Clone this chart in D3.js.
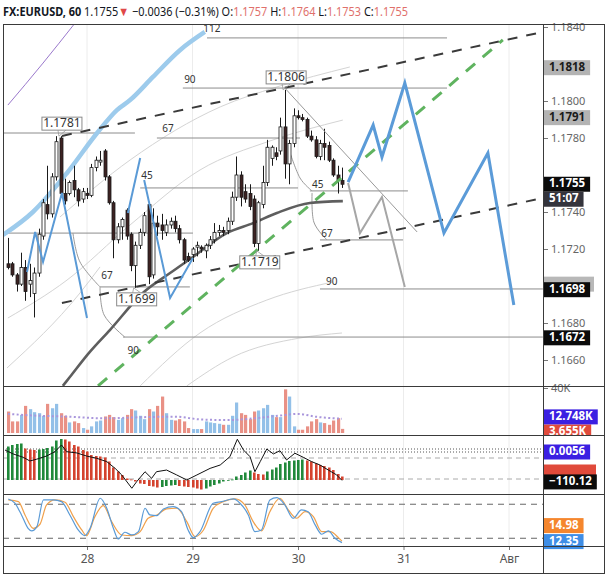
<!DOCTYPE html>
<html>
<head>
<meta charset="utf-8">
<script src="https://cdn.jsdelivr.net/npm/d3@7"></script>
<style>
  body { margin: 0; background: #fff; }
  text { font-family: "Noto Sans", sans-serif; }
</style>
</head>
<body>
<svg id="chart" width="607" height="576"></svg>
<script>
// ---------- data ----------
const firstHour = 6;          // 27 Jul 06:00, hours counted from 27 Jul 00:00
// [open, high, low, close] hourly candles
const candles = [
  [1.1712,1.1726,1.1709,1.1710],[1.1712,1.1713,1.1705,1.1706],[1.1706,1.1707,1.1697,1.1701],
  [1.1701,1.1718,1.1700,1.1710],[1.1710,1.1714,1.1692,1.1697],[1.1701,1.1712,1.1694,1.1703],
  [1.1696,1.1710,1.1683,1.1707],[1.1707,1.1731,1.1705,1.1728],[1.1727,1.1747,1.1725,1.1745],
  [1.1744,1.1765,1.1736,1.1739],[1.1739,1.1761,1.1737,1.1759],[1.1759,1.1781,1.1757,1.1778],
  [1.1780,1.1781,1.1748,1.1750],[1.1750,1.1758,1.1744,1.1746],[1.1750,1.1757,1.1749,1.1756],
  [1.1757,1.1765,1.1748,1.1752],[1.1752,1.1753,1.1743,1.1746],[1.1747,1.1753,1.1745,1.1751],
  [1.1750,1.1753,1.1747,1.1749],[1.1749,1.1766,1.1748,1.1764],[1.1764,1.1770,1.1762,1.1768],
  [1.1767,1.1773,1.1765,1.1768],[1.1773,1.1774,1.1757,1.1759],[1.1759,1.1760,1.1744,1.1745],
  [1.1745,1.1746,1.1715,1.1725],[1.1725,1.1734,1.1723,1.1732],[1.1732,1.1737,1.1725,1.1736],
  [1.1741,1.1742,1.1725,1.1727],[1.1728,1.1729,1.1708,1.1711],[1.1711,1.1724,1.1699,1.1722],
  [1.1722,1.1731,1.1720,1.1729],[1.1729,1.1740,1.1727,1.1738],[1.1744,1.1745,1.1701,1.1705],
  [1.1706,1.1742,1.1704,1.1734],[1.1734,1.1738,1.1727,1.1732],[1.1733,1.1739,1.1725,1.1730],
  [1.1729,1.1736,1.1727,1.1733],[1.1733,1.1737,1.1731,1.1735],[1.1735,1.1738,1.1729,1.1731],
  [1.1731,1.1733,1.1723,1.1725],[1.1725,1.1726,1.1712,1.1714],[1.1716,1.1718,1.1713,1.1714],
  [1.1717,1.1721,1.1713,1.1720],[1.1721,1.1724,1.1716,1.1722],[1.1721,1.1722,1.1718,1.1720],
  [1.1719,1.1723,1.1715,1.1722],[1.1722,1.1727,1.1720,1.1725],[1.1725,1.1734,1.1723,1.1729],
  [1.1729,1.1733,1.1727,1.1730],[1.1730,1.1732,1.1727,1.1729],[1.1730,1.1737,1.1728,1.1735],
  [1.1735,1.1751,1.1733,1.1748],[1.1748,1.1770,1.1746,1.1760],[1.1760,1.1762,1.1743,1.1748],
  [1.1751,1.1755,1.1745,1.1747],[1.1750,1.1755,1.1741,1.1743],[1.1747,1.1749,1.1721,1.1723],
  [1.1723,1.1746,1.1719,1.1745],[1.1744,1.1765,1.1742,1.1756],[1.1756,1.1779,1.1754,1.1775],
  [1.1769,1.1776,1.1765,1.1775],[1.1772,1.1775,1.1768,1.1770],[1.1773,1.1791,1.1771,1.1786],
  [1.1786,1.1806,1.1758,1.1766],[1.1766,1.1779,1.1755,1.1777],[1.1777,1.1796,1.1775,1.1792],
  [1.1792,1.1795,1.1790,1.1791],[1.1791,1.1793,1.1789,1.1790],[1.1790,1.1791,1.1780,1.1781],
  [1.1781,1.1784,1.1778,1.1779],[1.1779,1.1781,1.1769,1.1770],[1.1770,1.1779,1.1768,1.1777],
  [1.1777,1.1785,1.1768,1.1775],[1.1776,1.1778,1.1767,1.1768],[1.1768,1.1769,1.1759,1.1760],
  [1.1760,1.1765,1.1750,1.1757],[1.1757,1.1764,1.1753,1.1755]
];
// volume, thousands
const volumes = [19.1,10.3,10.3,16.1,24.1,21.2,18.5,17.6,15.3,25.9,22.0,25.9,17.6,15.3,9.4,10.3,
  8.8,4.4,2.9,5.9,10.3,11.1,14.7,16.1,14.1,11.7,13.2,16.1,21.2,20.0,15.3,12.3,21.2,19.1,24.1,32.4,
  17.6,11.7,11.1,12.3,10.3,4.4,3.5,3.5,3.5,10.3,9.4,8.8,8.2,7.3,7.3,15.3,27.1,17.6,16.1,12.3,19.1,
  20.0,22.0,25.0,16.1,14.1,14.1,38.8,32.4,5.9,2.9,2.9,5.9,10.3,12.3,9.4,8.8,7.3,11.1,13.2,3.655];
const volumeMA = [[6,17],[12,15.5],[20,14.5],[28,13],[36,14],[44,14.5],[50,12],[56,11.5],
  [62,13],[68,15.5],[72,17],[76,14.5],[82,12.748]];
// MACD histogram
const macdHist = [0.0067,0.0070,0.0072,0.0073,0.0063,0.0061,0.0060,0.0061,0.0062,0.0064,
  0.0067,0.0079,0.0082,0.0081,0.0077,0.0070,0.0067,0.0060,0.0057,0.0050,
  0.0048,0.0047,0.0045,0.0037,0.0025,0.0017,0.0010,0.0003,0.0001,-0.0003,
  -0.0007,-0.0008,-0.0012,-0.0013,-0.0015,-0.0014,-0.0012,-0.0011,-0.0010,-0.0012,
  -0.0013,-0.0014,-0.0015,-0.0017,-0.0019,-0.0017,-0.0013,-0.0010,-0.0007,-0.0003,
  -0.0001,0.0001,0.0007,0.0010,0.0015,0.0019,0.0015,0.0012,0.0011,0.0017,
  0.0021,0.0025,0.0032,0.0035,0.0038,0.0039,0.0040,0.0041,0.0039,0.0037,
  0.0033,0.0030,0.0028,0.0025,0.0020,0.0012,0.0007];
const macdDotted = [0.0062, 0.0056];
const macdSignal = 0.0016;
// CCI line [hour, value]
const cci = [[5.35,107],[7.2,79],[9.5,55],[11,29],[12.5,41],[14.8,64],[16.7,95],[18.2,143],
  [19.4,95],[21.7,86],[23.9,64],[26.2,48],[28.5,24],[30.4,-24],[31.9,-71],[34.2,-166],[35.3,-119],
  [37.2,-48],[38.7,-95],[39.8,-48],[42.1,-36],[44.4,-71],[46.7,-107],[49,-71],[52,-24],[54.3,0],
  [56.5,59],[58.2,184],[59.6,107],[61.1,59],[62.2,-48],[63.4,24],[64.9,114],[66.4,79],[67.9,102],
  [69.4,36],[71.3,84],[73.2,55],[75.1,24],[77,0],[78.9,-36],[80.8,-71],[82,-110.12]];
const cciDashed = [50, -100];
// Stochastic %K and %D [hour, value]
const stochK = [[6.1,89.3],[7.6,81.8],[9.1,61.1],[10.6,37.6],[11.4,32.9],[12.6,40.5],[14.1,87.6],
  [16.3,87.6],[18.2,84.6],[20.1,61.1],[22,34.6],[23.5,24.6],[24.7,37.6],[27,90.6],[28.5,72.9],
  [30,37.6],[31.1,18.8],[32.6,30.6],[34.2,25.8],[35.7,31.6],[37.2,72.9],[38.3,61.1],[39.9,59.9],
  [41.4,71.7],[43.6,75.8],[45.5,66.9],[47,34.6],[48.2,21.1],[49.7,31.6],[52.7,81.8],[54.6,84.6],
  [57.3,89.3],[58.8,81.8],[60.7,61.1],[62.2,31.6],[63.7,34.6],[65.6,87.6],[67.2,91.6],[69,78.8],
  [70.9,55.3],[72.8,69.9],[74.3,66.9],[75.9,43.5],[77.4,27.1],[78.9,32.9],[80.4,20],[82,12.35]];
const stochD = [[6.1,87.6],[8.4,84.6],[9.9,61.1],[11.8,37.6],[13.3,44.7],[14.8,78.8],[16.7,87.6],
  [19,83.5],[20.9,58.1],[22.8,34.6],[23.9,24.6],[25.8,58.1],[27.7,77.5],[29.6,49.3],[31.9,25.8],
  [34.2,24.6],[36.1,31.6],[37.9,55.3],[39.9,61.1],[42.1,71.7],[44.4,72.9],[46.7,49.3],[48.6,22.8],
  [50.5,34.6],[52.7,72.9],[55,84.6],[57.7,89.3],[59.9,78.8],[61.8,49.3],[63.7,32.9],[65.6,66.9],
  [67.9,90.6],[69.8,69.9],[71.7,55.3],[73.6,66.9],[75.5,58.1],[77.4,31.6],[79.3,31.6],[81.2,21.1],
  [82,14.98]];
const stochLevels = [80, 20];

// overlays on the price pane, [hour, price]
const movingAvg = [[18.5,1.1646],[20.1,1.16508],[24.5,1.1664],[29.2,1.16762],[36.7,1.16962],
  [42.9,1.1707],[48.1,1.17157],[55.8,1.17286],[61.8,1.1734],[67.2,1.17395],[74.7,1.17449],[82.2,1.17459]];
const upperBand = [[4.9,1.17276],[11.7,1.174],[19.45,1.17611],[26.3,1.17827],[30.8,1.17951],
  [33.8,1.18005],[39,1.1813],[45.2,1.18276],[50.8,1.18373]];
const purpleLine = [[6,1.17978],[14,1.18205],[21.3,1.18422]];
const faintCurves = [
  [[17.85,1.17373],[33.8,1.17681],[54.3,1.17968],[67.2,1.18076],[83.8,1.18184]],
  [[6,1.16827],[19.45,1.17032],[33.8,1.1733],[49.7,1.17627],[65.6,1.17784],[82.2,1.17897]],
  [[5.8,1.16557],[22.4,1.16962],[26.96,1.17103]],
  [[36.1,1.1646],[49.7,1.16746],[64.9,1.16924],[80,1.17022]],
  [[46.7,1.1646],[57.2,1.16616],[72.45,1.16719],[82,1.16746]]
];
const arcs = [
  [[20.8,1.17286],[22.4,1.1713],[26.96,1.16995]],
  [[26.96,1.16995],[27.9,1.16843],[32.6,1.16724]],
  [[70.2,1.17719],[72.45,1.17584],[75.2,1.17514]],
  [[75.2,1.17503],[75.6,1.17346],[78.6,1.17249]]
];
// horizontal levels [fromHour, toHour, price]
const levels = [[51.3,105.9,1.18341],[45.8,105.9,1.1807],[4.9,34.9,1.17827],[39.9,72.45,1.178],
  [36.1,72,1.1753],[4.9,48.1,1.17286],[26.96,47.4,1.16995],[32.2,127.7,1.16724],
  [74.7,97,1.17514],[77,95.9,1.17249],[77,127.7,1.16984]];
const levelLabels = [["112",52.4,1.18389],["90",47.4,1.18114],["67",42.4,1.17849],["45",37.65,1.17595],
  ["67",28.55,1.17054],["90",34.5,1.16649],["45",76.5,1.17546],["67",78.6,1.17281],["90",79.7,1.17022]];
const channelUpper = [[18.3,1.17811],[127.7,1.18373]];
const channelLower = [[18.3,1.16908],[127.7,1.17476]];
const greenTrend = [[26.5,1.1646],[118.6,1.1833]];
const fallLine = [[69,1.1807],[99.1,1.17292]];
const grayPath = [[83.4,1.17557],[86.1,1.17286],[91.1,1.17481],[96.3,1.16995]];
const bluePath = [[83.4,1.17562],[89.1,1.1787],[91.1,1.17697],[96.3,1.18097],[105.2,1.17286],
  [115.2,1.17719],[121.1,1.16897]];
const blueThin = [
  [[10.35,1.17076],[12.2,1.17292],[14,1.1713],[18.3,1.17503],[24,1.16827]],
  [[33.3,1.17395],[36.1,1.17692]],
  [[37,1.17573],[42.9,1.16935],[48.1,1.17151]]
];
// swing labels [boxHour, price, side]
const callouts = [[18.3,1.1781,"above"],[69.3,1.1806,"above"],[63.3,1.1719,"below"],[35.3,1.1699,"below"]];
// price-axis markers [price, background]
const priceMarkers = [[1.1818,"#b3b3b3"],[1.1791,"#b3b3b3"],[1.1698,"#0b0b0b"],[1.1672,"#0b0b0b"]];
const hiddenMarker = 1.1701;

const priceTicks = [1.1840,1.1820,1.1800,1.1780,1.1760,1.1740,1.1720,1.1700,1.1680,1.1660];
const dayTicks = [24,48,72,96,120];
const dayLabels = ["28","29","30","31","Авг"];
const countdown = "51:07";
const changeText = " \u22120.0036 (\u22120.31%)";

// ---------- layout ----------
const L = 3, R = 543, AR = 604, TOP = 24, MAINB = 386, VOLB = 435, MACDB = 494, STOB = 546, BOT = 573;
const svg = d3.select("#chart");
svg.append("rect").attr("width", 607).attr("height", 576).attr("fill", "#fff");

const x = d3.scaleLinear().domain([24, 120]).range([87, 509]);
const yP = d3.scaleLinear().domain([1.1660, 1.1840]).range([360, 27]);
const yV = d3.scaleLinear().domain([0, 40]).range([433, 388]);
const yH = d3.scaleLinear().domain([-0.002, 0.008]).range([490, 440]);
const yC = d3.scaleLinear().domain([-200, 200]).range([493, 437]);
const yS = d3.scaleLinear().domain([0, 100]).range([549.6, 492.9]);
const hourOf = i => firstHour + i;
const last = candles[candles.length - 1];

const defs = svg.append("defs");
function addClip(id, x0, y0, x1, y1) {
  defs.append("clipPath").attr("id", id).append("rect")
    .attr("x", x0).attr("y", y0).attr("width", x1 - x0).attr("height", y1 - y0);
}
addClip("cMain", L + 1, TOP + 1, R, MAINB);
addClip("cVol", L + 1, MAINB + 1, R, VOLB);
addClip("cMacd", L + 1, VOLB + 1, R, MACDB);
addClip("cSto", L + 1, MACDB + 1, R, STOB);
addClip("cVolAxis", R, MAINB + 1, AR, VOLB);

// vertical day grid
svg.append("g").selectAll("line").data(dayTicks).join("line")
  .attr("x1", d => x(d)).attr("x2", d => x(d)).attr("y1", TOP).attr("y2", STOB)
  .attr("stroke", "#ececec").attr("stroke-width", 1);

// ---------- main pane ----------
const g = svg.append("g").attr("clip-path", "url(#cMain)");
const lineP = d3.line().x(d => x(d[0])).y(d => yP(d[1]));
const curveP = d3.line().x(d => x(d[0])).y(d => yP(d[1])).curve(d3.curveMonotoneX);
const arcP = d3.line().x(d => x(d[0])).y(d => yP(d[1])).curve(d3.curveCardinal);

g.selectAll(".faint").data(faintCurves).join("path").attr("class", "faint")
  .attr("d", curveP).attr("fill", "none").attr("stroke", "#d4d4d4").attr("stroke-width", 1);

g.selectAll(".lvl").data(levels).join("line").attr("class", "lvl")
  .attr("x1", d => x(d[0])).attr("x2", d => x(d[1]))
  .attr("y1", d => yP(d[2])).attr("y2", d => yP(d[2]))
  .attr("stroke", "#8c8c8c").attr("stroke-width", 1);

g.selectAll(".arc").data(arcs).join("path").attr("class", "arc")
  .attr("d", arcP).attr("fill", "none").attr("stroke", "#9a9a9a").attr("stroke-width", 1);

g.append("path").datum(movingAvg).attr("d", curveP).attr("fill", "none")
  .attr("stroke", "#5e5e5e").attr("stroke-width", 2.6);
g.append("path").datum(upperBand).attr("d", curveP).attr("fill", "none")
  .attr("stroke", "#9dcbec").attr("stroke-width", 4.5);
g.append("path").datum(purpleLine).attr("d", curveP).attr("fill", "none")
  .attr("stroke", "#9a78cc").attr("stroke-width", 1);

// candles
const cg = g.append("g");
candles.forEach((c, i) => {
  const cx = Math.round(x(hourOf(i))) + 0.5;
  const up = c[3] >= c[0];
  cg.append("line").attr("x1", cx).attr("x2", cx)
    .attr("y1", yP(c[1])).attr("y2", yP(c[2])).attr("stroke", "#1a1a1a").attr("stroke-width", 1);
  const top = yP(Math.max(c[0], c[3])), bot = yP(Math.min(c[0], c[3]));
  cg.append("rect").attr("x", cx - 1.5).attr("y", top).attr("width", 3)
    .attr("height", Math.max(1, bot - top))
    .attr("fill", up ? "#ffffff" : "#3d2222").attr("stroke", "#1a1a1a").attr("stroke-width", 0.8);
});

[channelUpper, channelLower].forEach(d => {
  g.append("path").datum(d).attr("d", lineP).attr("stroke", "#3a3a3a")
    .attr("stroke-width", 2).attr("stroke-dasharray", "10,9").attr("fill", "none");
});
g.append("path").datum(greenTrend).attr("d", lineP).attr("stroke", "#5fb35f")
  .attr("stroke-width", 3).attr("stroke-dasharray", "12,10").attr("fill", "none");
g.append("path").datum(fallLine).attr("d", lineP).attr("stroke", "#999")
  .attr("stroke-width", 1).attr("fill", "none");
g.append("path").datum(grayPath).attr("d", lineP).attr("stroke", "#a6a6a6")
  .attr("stroke-width", 2).attr("fill", "none");
g.selectAll(".bthin").data(blueThin).join("path").attr("class", "bthin")
  .attr("d", lineP).attr("stroke", "#5a9ad6").attr("stroke-width", 2).attr("fill", "none");
g.append("path").datum(bluePath).attr("d", lineP).attr("stroke", "#5b9bd8")
  .attr("stroke-width", 3).attr("stroke-linejoin", "miter").attr("fill", "none");

g.selectAll(".lbl").data(levelLabels).join("text").attr("class", "lbl")
  .attr("x", d => x(d[1])).attr("y", d => yP(d[2]))
  .attr("text-anchor", "middle").attr("dominant-baseline", "middle")
  .attr("font-size", 10).attr("fill", "#333").text(d => d[0]);

callouts.forEach(([h, p, side]) => {
  const cx = x(h), py = yP(p);
  const bw = 40, bh = 13;
  const by = side === "above" ? py - 6 - bh : py + 5;
  const edge = side === "above" ? by + bh : by;
  g.append("path")
    .attr("d", `M${cx - 4},${edge}L${x(h) - 3},${py}L${cx + 4},${edge}`)
    .attr("fill", "none").attr("stroke", "#999").attr("stroke-width", 0.8);
  g.append("rect").attr("x", cx - bw / 2).attr("y", by).attr("width", bw).attr("height", bh)
    .attr("fill", "#fff").attr("stroke", "#8a8a8a").attr("stroke-width", 1);
  g.append("text").attr("x", cx).attr("y", by + bh / 2 + 0.5)
    .attr("text-anchor", "middle").attr("dominant-baseline", "middle")
    .attr("font-size", 12).attr("fill", "#333").text(d3.format(".4f")(p));
});

// ---------- volume pane ----------
const vg = svg.append("g").attr("clip-path", "url(#cVol)");
vg.selectAll("rect").data(volumes).join("rect")
  .attr("x", (d, i) => Math.round(x(hourOf(i))) - 1)
  .attr("y", d => yV(d)).attr("width", 3.2).attr("height", d => yV(0) - yV(d))
  .attr("fill", (d, i) => candles[i][3] >= candles[i][0] ? "#93c0e8" : "#e99186");
vg.append("path").datum(volumeMA)
  .attr("d", d3.line().x(d => x(d[0])).y(d => yV(d[1])).curve(d3.curveMonotoneX))
  .attr("fill", "none").attr("stroke", "#a996dc").attr("stroke-width", 2).attr("stroke-dasharray", "2,2.4");

// ---------- MACD / CCI pane ----------
const mg = svg.append("g").attr("clip-path", "url(#cMacd)");
mg.selectAll(".dot").data(macdDotted).join("line").attr("class", "dot")
  .attr("x1", L).attr("x2", R).attr("y1", d => yH(d)).attr("y2", d => yH(d))
  .attr("stroke", "#555").attr("stroke-width", 1).attr("stroke-dasharray", "1,2");
mg.selectAll(".dash").data(cciDashed).join("line").attr("class", "dash")
  .attr("x1", L).attr("x2", R).attr("y1", d => yC(d)).attr("y2", d => yC(d))
  .attr("stroke", "#aaa").attr("stroke-width", 1).attr("stroke-dasharray", "5,4");
mg.selectAll(".hb").data(macdHist).join("rect").attr("class", "hb")
  .attr("x", (d, i) => Math.round(x(hourOf(i))) - 1)
  .attr("y", d => Math.min(yH(d), yH(0))).attr("width", 2.6)
  .attr("height", d => Math.max(0.8, Math.abs(yH(d) - yH(0))))
  .attr("fill", (d, i) => (i === 0 || d >= macdHist[i - 1]) ? "#20893a" : "#d4432f");
mg.append("path").datum(cci)
  .attr("d", d3.line().x(d => x(d[0])).y(d => yC(d[1])))
  .attr("fill", "none").attr("stroke", "#111").attr("stroke-width", 1);

// ---------- stochastic pane ----------
const sg = svg.append("g").attr("clip-path", "url(#cSto)");
sg.selectAll("line").data(stochLevels).join("line")
  .attr("x1", L).attr("x2", R).attr("y1", d => yS(d)).attr("y2", d => yS(d))
  .attr("stroke", "#666").attr("stroke-width", 1).attr("stroke-dasharray", "6,5");
const lineS = d3.line().x(d => x(d[0])).y(d => yS(d[1])).curve(d3.curveMonotoneX);
sg.append("path").datum(stochD).attr("d", lineS).attr("fill", "none")
  .attr("stroke", "#f0a04b").attr("stroke-width", 1.2);
sg.append("path").datum(stochK).attr("d", lineS).attr("fill", "none")
  .attr("stroke", "#5a9ad6").attr("stroke-width", 1.2);

// ---------- axes ----------
// y positions of axis markers, used to hide tick labels they cover
const markerYs = [...priceMarkers.map(d => yP(d[0])), yP(hiddenMarker), yP(last[3]), yP(last[3]) + 15];
const visibleTicks = priceTicks.filter(t => markerYs.every(my => Math.abs(yP(t) - my) > 10));
const pa = svg.append("g").attr("transform", `translate(${R},0)`)
  .call(d3.axisRight(yP).tickValues(visibleTicks).tickFormat(d3.format(".4f")).tickSize(5).tickPadding(3));
pa.select(".domain").remove();
pa.selectAll("line").attr("stroke", "#777");
pa.selectAll("text").attr("fill", "#666").attr("font-size", 11).attr("font-family", "Noto Sans");

const va = svg.append("g").attr("transform", `translate(${R},0)`)
  .call(d3.axisRight(yV).tickValues([40]).tickFormat(d => d + "K").tickSize(5).tickPadding(3));
va.select(".domain").remove();
va.selectAll("line").attr("stroke", "#777");
va.selectAll("text").attr("fill", "#666").attr("font-size", 11).attr("font-family", "Noto Sans");

const xa = svg.append("g").attr("transform", `translate(0,${STOB})`)
  .call(d3.axisBottom(x).tickValues(dayTicks).tickFormat((d, i) => dayLabels[i]).tickSize(4).tickPadding(4));
xa.select(".domain").remove();
xa.selectAll("line").attr("stroke", "#777");
xa.selectAll("text").attr("fill", "#555").attr("font-size", 12).attr("font-family", "Noto Sans");

// ---------- axis markers ----------
function marker(parent, cy, text, bg, fg, w) {
  const mgp = parent.append("g");
  const r = mgp.append("rect");
  let width = w || 50;
  if (text) {
    const t = mgp.append("text").attr("x", R + 6).attr("y", cy).attr("dominant-baseline", "middle")
      .attr("font-size", 11.5).attr("font-weight", "bold").attr("fill", fg).text(text);
    width = t.node().getComputedTextLength() + 10;
  }
  r.attr("x", R + 1).attr("y", cy - 7.5).attr("width", width).attr("height", 15).attr("fill", bg);
}
marker(svg, yP(hiddenMarker), null, "#b8b8b8", null, 50);
priceMarkers.forEach(([p, bg]) => marker(svg, yP(p), d3.format(".4f")(p), bg, bg === "#0b0b0b" ? "#fff" : "#1b1b1b"));
marker(svg, yP(last[3]), d3.format(".4f")(last[3]), "#0b0b0b", "#fff");
marker(svg, yP(last[3]) + 15, countdown, "#34343c", "#fff");

const volAxis = svg.append("g").attr("clip-path", "url(#cVolAxis)");
const volLast = volumes[volumes.length - 1], volMaLast = volumeMA[volumeMA.length - 1][1];
marker(volAxis, yV(volLast) + 3, d3.format(".3f")(volLast) + "K", "#e04a3b", "#fff");
marker(volAxis, Math.min(yV(volMaLast), yV(volLast) + 3 - 15), d3.format(".3f")(volMaLast) + "K", "#3b1fe2", "#fff");

const cciLast = cci[cci.length - 1][1];
marker(svg, yH(macdSignal), null, "#e04a3b", null, 52);
marker(svg, yH(macdDotted[1]), d3.format(".4f")(macdDotted[1]), "#3b1fe2", "#fff");
marker(svg, yC(cciLast) + 1.5, d3.format(".2f")(cciLast).replace("-", "\u2212"), "#0b0b0b", "#fff");

const kY = yS(stochK[stochK.length - 1][1]) - 1;
marker(svg, Math.min(yS(stochD[stochD.length - 1][1]), kY - 16), d3.format(".2f")(stochD[stochD.length - 1][1]), "#f5862d", "#fff");
marker(svg, kY, d3.format(".2f")(stochK[stochK.length - 1][1]), "#3f8ee6", "#fff");

// ---------- frame ----------
const fr = svg.append("g").attr("stroke", "#3a3a3a").attr("stroke-width", 1).attr("fill", "none");
fr.append("rect").attr("x", L + 0.5).attr("y", TOP + 0.5).attr("width", AR - L).attr("height", BOT - TOP);
[MAINB, VOLB, MACDB, STOB].forEach(yy => {
  fr.append("line").attr("x1", L).attr("x2", AR + 0.5).attr("y1", yy + 0.5).attr("y2", yy + 0.5);
});
fr.append("line").attr("x1", R + 0.5).attr("x2", R + 0.5).attr("y1", TOP).attr("y2", BOT);

// ---------- title ----------
// pieces laid out one after another, then the row is squeezed to the reference width
const red = "#e0706b", dark = "#131722";
const titleParts = [
  ["FX:EURUSD, 60", dark, "bold"],
  [" " + d3.format(".4f")(last[3]), dark],
  ["\u25BC", "#e04848"],
  [changeText + " O:", dark],
  [d3.format(".4f")(last[0]), red], [" H:", dark],
  [d3.format(".4f")(last[1]), red], [" L:", dark],
  [d3.format(".4f")(last[2]), red], [" C:", dark],
  [d3.format(".4f")(last[3]), red]
];
const tg = svg.append("g");
let tx = 0;
titleParts.forEach(([s, col, wt]) => {
  const t = tg.append("text").attr("x", tx).attr("y", 16).attr("font-size", 12.5)
    .attr("fill", col).attr("font-weight", wt || "normal").attr("xml:space", "preserve")
    .style("white-space", "pre").text(s);
  tx += t.node().getComputedTextLength();
});
tg.attr("transform", `translate(3,0) scale(${405 / tx},1)`);
</script>
</body>
</html>
